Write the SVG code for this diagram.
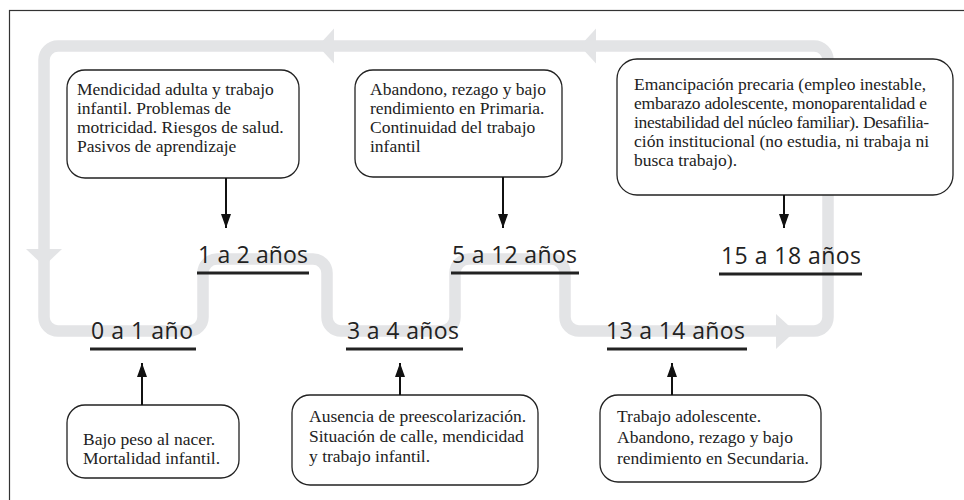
<svg xmlns="http://www.w3.org/2000/svg" width="964" height="500" viewBox="0 0 964 500">
<defs>
<style>
.frame{fill:none;stroke:#333;stroke-width:1.2}
.flow{fill:none;stroke:#e3e4e6;stroke-width:11.5}
.flowhead{fill:#e3e4e6}
.box{fill:#fff;stroke:#222;stroke-width:1.3}
.bt{font-family:"Liberation Serif","Times New Roman",serif;font-size:17.5px;fill:#222}
.lab{font-family:"Open Sans","Noto Sans",sans-serif;font-size:23px;fill:#222}
.ul{stroke:#222;stroke-width:3}
.arr{stroke:#111;stroke-width:2;fill:none;marker-end:url(#ah)}
</style>
<marker id="ah" viewBox="0 0 14 10" refX="14" refY="5" markerWidth="14" markerHeight="10" markerUnits="userSpaceOnUse" orient="auto">
<path d="M0,0 L14,5 L0,10 z" fill="#111"/>
</marker>
</defs>
<rect class="frame" x="9.5" y="10.5" width="970" height="510"/>

<g id="cycle">
<path class="flow" d="M58,46 H814 A14 14 0 0 1 828 60 V317 A14 14 0 0 1 814 331 H579 A14 14 0 0 1 565 317 V273 A14 14 0 0 0 551 259 H469 A14 14 0 0 0 455 273 V317 A14 14 0 0 1 441 331 H341 A14 14 0 0 1 327 317 V273 A14 14 0 0 0 313 259 H217 A14 14 0 0 0 203 273 V317 A14 14 0 0 1 189 331 H58 A14 14 0 0 1 44 317 V60 A14 14 0 0 1 58 46 Z"/>
<polygon class="flowhead" points="318,46 334,28.5 334,63.5"/>
<polygon class="flowhead" points="580,46 596,28.5 596,63.5"/>
<polygon class="flowhead" points="26,249 62,249 44,266"/>
<polygon class="flowhead" points="776,314 776,349 795,331.5"/>
</g>

<g id="age0">
<text class="lab" x="91" y="339" textLength="102" lengthAdjust="spacing">0 a 1 año</text>
<line class="ul" x1="90" y1="349" x2="196" y2="349"/>
</g>
<g id="age1">
<text class="lab" x="198" y="263" textLength="110" lengthAdjust="spacing">1 a 2 años</text>
<line class="ul" x1="197" y1="273" x2="309" y2="273"/>
</g>
<g id="age3">
<text class="lab" x="347" y="339" textLength="112" lengthAdjust="spacing">3 a 4 años</text>
<line class="ul" x1="346" y1="349" x2="463" y2="349"/>
</g>
<g id="age5">
<text class="lab" x="452" y="263" textLength="125" lengthAdjust="spacing">5 a 12 años</text>
<line class="ul" x1="451" y1="273" x2="579" y2="273"/>
</g>
<g id="age13">
<text class="lab" x="606" y="339" textLength="139" lengthAdjust="spacing">13 a 14 años</text>
<line class="ul" x1="607" y1="349" x2="747" y2="349"/>
</g>
<g id="age15">
<text class="lab" x="721" y="264" textLength="140" lengthAdjust="spacing">15 a 18 años</text>
<line class="ul" x1="719" y1="274" x2="862" y2="274"/>
</g>

<g id="box1">
<rect class="box" x="67" y="70" width="232" height="108" rx="18"/>
<text class="bt" x="77" y="95">Mendicidad adulta y trabajo</text>
<text class="bt" x="77" y="114">infantil. Problemas de</text>
<text class="bt" x="77" y="133">motricidad. Riesgos de salud.</text>
<text class="bt" x="77" y="152">Pasivos de aprendizaje</text>
</g>
<g id="box2">
<rect class="box" x="355" y="70" width="207" height="107" rx="18"/>
<text class="bt" x="370" y="95">Abandono, rezago y bajo</text>
<text class="bt" x="370" y="114">rendimiento en Primaria.</text>
<text class="bt" x="370" y="133">Continuidad del trabajo</text>
<text class="bt" x="370" y="152">infantil</text>
</g>
<g id="box3">
<rect class="box" x="617" y="59" width="336" height="136" rx="20"/>
<text class="bt" x="634" y="90" textLength="292" lengthAdjust="spacing">Emancipación precaria (empleo inestable,</text>
<text class="bt" x="634" y="109" textLength="293" lengthAdjust="spacing">embarazo adolescente, monoparentalidad e</text>
<text class="bt" x="634" y="128" textLength="295" lengthAdjust="spacing">inestabilidad del núcleo familiar). Desafilia-</text>
<text class="bt" x="634" y="147" textLength="295" lengthAdjust="spacing">ción institucional (no estudia, ni trabaja ni</text>
<text class="bt" x="634" y="166">busca trabajo).</text>
</g>
<g id="box4">
<rect class="box" x="67" y="405" width="172" height="73" rx="18"/>
<text class="bt" x="83" y="445">Bajo peso al nacer.</text>
<text class="bt" x="83" y="464">Mortalidad infantil.</text>
</g>
<g id="box5">
<rect class="box" x="292" y="395" width="246" height="90" rx="18"/>
<text class="bt" x="309" y="422">Ausencia de preescolarización.</text>
<text class="bt" x="309" y="442">Situación de calle, mendicidad</text>
<text class="bt" x="309" y="462">y trabajo infantil.</text>
</g>
<g id="box6">
<rect class="box" x="600" y="395" width="221" height="87" rx="18"/>
<text class="bt" x="617" y="422">Trabajo adolescente.</text>
<text class="bt" x="617" y="443">Abandono, rezago y bajo</text>
<text class="bt" x="617" y="464">rendimiento en Secundaria.</text>
</g>

<g id="connectors">
<line class="arr" x1="226" y1="178" x2="226" y2="228"/>
<line class="arr" x1="503" y1="177" x2="503" y2="228"/>
<line class="arr" x1="784" y1="195" x2="784" y2="228"/>
<line class="arr" x1="142" y1="405" x2="142" y2="363"/>
<line class="arr" x1="400" y1="395" x2="400" y2="363"/>
<line class="arr" x1="672" y1="395" x2="672" y2="363"/>
</g>
</svg>
